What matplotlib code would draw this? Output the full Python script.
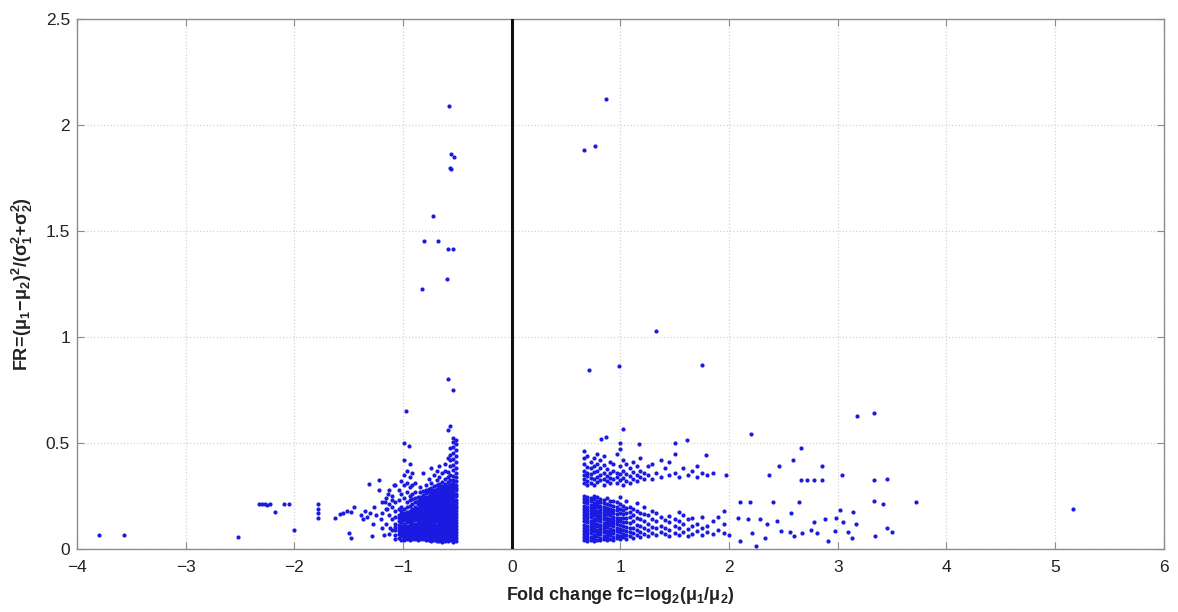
import matplotlib
matplotlib.use("Agg")
import matplotlib.pyplot as plt

plt.rcParams["font.family"] = ["Liberation Sans", "DejaVu Sans"]
plt.rcParams["mathtext.fontset"] = "custom"
plt.rcParams["mathtext.rm"] = "Liberation Sans"
plt.rcParams["mathtext.it"] = "Liberation Sans"
plt.rcParams["mathtext.bf"] = "Liberation Sans:bold"

# ---- data: fold change (fc) and Fisher ratio (FR) per gene ----
# isolated genes, down-regulated side
neg_fc = [-3.80, -3.57, -2.52, -2.00, -2.33, -2.30, -2.27, -2.25, -2.22, -2.18,
          -2.10, -2.05, -1.78, -1.78, -1.78, -1.78, -1.63, -1.58, -1.55, -1.52,
          -1.48, -1.45, -1.50, -1.48, -1.39, -1.37, -1.35, -1.33, -1.31, -1.30,
          -1.29, -1.28, -1.27, -1.25, -1.22, -1.22, -1.20, -1.18, -1.17, -1.15,
          -1.14, -1.12, -1.10, -1.08,
          -0.574, -0.558, -0.530, -0.567, -0.562, -0.727, -0.810, -0.675, -0.583,
          -0.543, -0.592, -0.822, -0.589, -0.545, -0.970, -0.570, -0.590, -0.990,
          -0.950]
neg_fr = [0.068, 0.065, 0.058, 0.088, 0.210, 0.212, 0.210, 0.208, 0.210, 0.175,
          0.210, 0.210, 0.212, 0.190, 0.168, 0.146, 0.146, 0.165, 0.170, 0.180,
          0.175, 0.200, 0.074, 0.052, 0.160, 0.140, 0.180, 0.150, 0.305, 0.170,
          0.060, 0.120, 0.200, 0.160, 0.325, 0.280, 0.140, 0.065, 0.220, 0.190,
          0.260, 0.100, 0.230, 0.300,
          2.090, 1.865, 1.849, 1.799, 1.791, 1.571, 1.453, 1.453, 1.417,
          1.417, 1.272, 1.225, 0.803, 0.751, 0.652, 0.580, 0.560, 0.500,
          0.485]

# dense block of down-regulated genes, listed column by column (fc: FR values)
neg_block = {
    -0.515: [0.038, 0.051, 0.066, 0.079, 0.094, 0.107, 0.121, 0.136, 0.149, 0.163,
             0.178, 0.191, 0.205, 0.219, 0.233, 0.248, 0.261, 0.276, 0.289, 0.304,
             0.321, 0.338, 0.357, 0.383, 0.412, 0.437, 0.468, 0.493, 0.512],
    -0.540: [0.034, 0.045, 0.058, 0.072, 0.087, 0.099, 0.114, 0.128, 0.142, 0.156,
             0.170, 0.184, 0.197, 0.212, 0.226, 0.240, 0.254, 0.268, 0.282, 0.297,
             0.310, 0.327, 0.346, 0.372, 0.398, 0.425, 0.452, 0.480, 0.505, 0.525],
    -0.565: [0.040, 0.053, 0.067, 0.081, 0.095, 0.109, 0.123, 0.137, 0.150, 0.165,
             0.179, 0.193, 0.207, 0.221, 0.235, 0.249, 0.262, 0.277, 0.291, 0.306,
             0.324, 0.350, 0.390, 0.420, 0.445, 0.475],
    -0.590: [0.036, 0.047, 0.060, 0.074, 0.088, 0.102, 0.116, 0.130, 0.144, 0.158,
             0.172, 0.186, 0.200, 0.214, 0.228, 0.242, 0.256, 0.270, 0.284, 0.298,
             0.315, 0.340, 0.365, 0.430],
    -0.615: [0.039, 0.052, 0.066, 0.080, 0.094, 0.108, 0.122, 0.136, 0.151, 0.164,
             0.178, 0.192, 0.206, 0.220, 0.234, 0.248, 0.263, 0.277, 0.291, 0.305,
             0.330, 0.370, 0.400],
    -0.640: [0.035, 0.046, 0.059, 0.073, 0.087, 0.101, 0.115, 0.129, 0.143, 0.157,
             0.171, 0.185, 0.199, 0.213, 0.227, 0.241, 0.255, 0.269, 0.283, 0.298,
             0.318, 0.360],
    -0.665: [0.038, 0.052, 0.066, 0.080, 0.094, 0.108, 0.122, 0.136, 0.150, 0.164,
             0.178, 0.192, 0.206, 0.220, 0.234, 0.248, 0.262, 0.276, 0.290, 0.305,
             0.340, 0.390],
    -0.690: [0.036, 0.047, 0.060, 0.073, 0.088, 0.102, 0.115, 0.130, 0.143, 0.157,
             0.172, 0.185, 0.200, 0.213, 0.227, 0.242, 0.255, 0.270, 0.284, 0.300,
             0.325, 0.370],
    -0.715: [0.040, 0.053, 0.067, 0.081, 0.095, 0.109, 0.123, 0.137, 0.151, 0.165,
             0.179, 0.193, 0.207, 0.221, 0.235, 0.249, 0.263, 0.278, 0.295, 0.350],
    -0.740: [0.037, 0.048, 0.061, 0.075, 0.089, 0.103, 0.117, 0.131, 0.145, 0.159,
             0.173, 0.187, 0.201, 0.215, 0.229, 0.243, 0.258, 0.272, 0.288, 0.310,
             0.380],
    -0.765: [0.042, 0.055, 0.069, 0.083, 0.097, 0.111, 0.125, 0.139, 0.153, 0.167,
             0.181, 0.195, 0.209, 0.223, 0.237, 0.252, 0.268, 0.285, 0.330],
    -0.790: [0.040, 0.050, 0.063, 0.077, 0.091, 0.105, 0.119, 0.133, 0.147, 0.161,
             0.175, 0.189, 0.203, 0.217, 0.231, 0.246, 0.262, 0.280, 0.300],
    -0.815: [0.045, 0.058, 0.072, 0.086, 0.100, 0.114, 0.128, 0.142, 0.156, 0.170,
             0.184, 0.198, 0.212, 0.226, 0.240, 0.256, 0.275, 0.360],
    -0.840: [0.048, 0.062, 0.076, 0.090, 0.104, 0.118, 0.132, 0.146, 0.160, 0.174,
             0.188, 0.202, 0.216, 0.230, 0.247, 0.270, 0.290],
    -0.865: [0.040, 0.052, 0.066, 0.080, 0.095, 0.109, 0.123, 0.137, 0.151, 0.166,
             0.180, 0.195, 0.210, 0.225, 0.245],
    -0.890: [0.045, 0.055, 0.070, 0.085, 0.100, 0.110, 0.120, 0.135, 0.150, 0.160,
             0.170, 0.185, 0.200, 0.220, 0.240, 0.270, 0.310],
    -0.915: [0.045, 0.060, 0.075, 0.085, 0.095, 0.110, 0.120, 0.130, 0.140, 0.150,
             0.165, 0.175, 0.190, 0.210, 0.235, 0.260, 0.300, 0.360],
    -0.940: [0.040, 0.050, 0.060, 0.070, 0.080, 0.090, 0.100, 0.115, 0.125, 0.140,
             0.150, 0.160, 0.170, 0.180, 0.205, 0.230, 0.250, 0.290, 0.340, 0.400],
    -0.965: [0.045, 0.055, 0.065, 0.080, 0.090, 0.100, 0.110, 0.125, 0.140, 0.155,
             0.165, 0.175, 0.200, 0.220, 0.270, 0.310, 0.370],
    -0.990: [0.040, 0.055, 0.070, 0.080, 0.095, 0.105, 0.120, 0.135, 0.150, 0.160,
             0.170, 0.190, 0.240, 0.300, 0.350, 0.420],
    -1.015: [0.040, 0.060, 0.070, 0.085, 0.100, 0.110, 0.125, 0.140, 0.150, 0.165,
             0.180, 0.200, 0.260, 0.320],
    -1.040: [0.050, 0.070, 0.085, 0.100, 0.115, 0.130, 0.145, 0.160, 0.190, 0.230,
             0.280],
    -1.070: [0.045, 0.065, 0.090, 0.105, 0.120, 0.150, 0.180, 0.220, 0.300],
    -1.100: [0.090, 0.140, 0.200, 0.250],
    -1.130: [0.070, 0.160, 0.210, 0.280],
    -1.160: [0.120, 0.190, 0.240],
    -1.190: [0.100, 0.170, 0.220],
}

# isolated genes, up-regulated side
pos_fc = [0.87, 0.66, 0.77, 1.33, 0.71, 0.99, 1.75, 3.18, 3.33, 2.20,
          2.66, 2.59, 2.46, 2.37, 2.85, 2.66, 2.72, 2.78, 2.85, 3.04,
          3.33, 3.45, 3.72, 5.16, 3.33, 3.42, 3.45, 3.50, 3.34, 3.02,
          3.14, 2.10, 2.19, 2.40, 2.64, 2.57, 2.25, 2.10, 1.97, 1.79,
          1.50, 1.61, 1.50, 1.175, 1.02, 0.82, 0.87,
          2.00, 2.08, 2.17, 2.21, 2.28, 2.33, 2.35, 2.44, 2.48, 2.56,
          2.60, 2.67, 2.75, 2.78, 2.81, 2.88, 2.91, 2.97, 3.05, 3.09,
          3.13, 3.17, 2.98]
pos_fr = [2.124, 1.880, 1.900, 1.030, 0.846, 0.862, 0.867, 0.626, 0.640, 0.540,
          0.476, 0.420, 0.390, 0.350, 0.390, 0.327, 0.327, 0.327, 0.327, 0.350,
          0.327, 0.330, 0.220, 0.190, 0.225, 0.214, 0.100, 0.080, 0.063, 0.185,
          0.173, 0.220, 0.220, 0.220, 0.220, 0.170, 0.013, 0.036, 0.350, 0.445,
          0.500, 0.513, 0.450, 0.497, 0.566, 0.520, 0.530,
          0.068, 0.146, 0.140, 0.075, 0.140, 0.052, 0.120, 0.130, 0.083, 0.079,
          0.063, 0.075, 0.090, 0.126, 0.075, 0.140, 0.036, 0.083, 0.126, 0.079,
          0.052, 0.120, 0.146]

# dense block of up-regulated genes, listed column by column (fc: FR values)
pos_block = {
    0.665: [0.040, 0.055, 0.070, 0.085, 0.100, 0.115, 0.130, 0.145, 0.160, 0.175,
            0.190, 0.205, 0.220, 0.235, 0.250, 0.310, 0.330, 0.350, 0.370, 0.400,
            0.430, 0.460],
    0.695: [0.036, 0.050, 0.066, 0.080, 0.096, 0.110, 0.126, 0.140, 0.156, 0.170,
            0.186, 0.200, 0.216, 0.230, 0.246, 0.300, 0.320, 0.345, 0.360, 0.385,
            0.440],
    0.725: [0.042, 0.058, 0.073, 0.088, 0.104, 0.118, 0.133, 0.149, 0.163, 0.178,
            0.194, 0.208, 0.224, 0.240, 0.310, 0.335, 0.355, 0.380, 0.410],
    0.755: [0.038, 0.052, 0.068, 0.083, 0.098, 0.113, 0.128, 0.143, 0.158, 0.173,
            0.188, 0.203, 0.218, 0.234, 0.250, 0.300, 0.330, 0.365, 0.390, 0.430],
    0.785: [0.044, 0.060, 0.075, 0.090, 0.106, 0.120, 0.136, 0.151, 0.166, 0.181,
            0.196, 0.212, 0.228, 0.245, 0.315, 0.340, 0.370, 0.400, 0.450],
    0.815: [0.040, 0.054, 0.070, 0.085, 0.100, 0.115, 0.130, 0.145, 0.160, 0.176,
            0.190, 0.205, 0.220, 0.238, 0.325, 0.350, 0.380, 0.420],
    0.845: [0.046, 0.062, 0.078, 0.093, 0.108, 0.124, 0.139, 0.154, 0.170, 0.185,
            0.200, 0.216, 0.232, 0.300, 0.330, 0.360, 0.395, 0.440],
    0.875: [0.040, 0.056, 0.072, 0.087, 0.102, 0.118, 0.133, 0.148, 0.164, 0.180,
            0.195, 0.212, 0.240, 0.320, 0.345, 0.375],
    0.905: [0.048, 0.065, 0.080, 0.096, 0.112, 0.127, 0.142, 0.158, 0.174, 0.190,
            0.208, 0.228, 0.310, 0.335, 0.360, 0.410],
    0.935: [0.042, 0.058, 0.075, 0.090, 0.106, 0.122, 0.138, 0.153, 0.170, 0.186,
            0.205, 0.225, 0.330, 0.370, 0.400],
    0.965: [0.050, 0.067, 0.083, 0.100, 0.116, 0.132, 0.148, 0.165, 0.182, 0.200,
            0.220, 0.310, 0.340, 0.360, 0.450],
    0.995: [0.045, 0.062, 0.078, 0.095, 0.112, 0.130, 0.148, 0.168, 0.190, 0.210,
            0.245, 0.325, 0.355, 0.390, 0.470, 0.500],
    1.025: [0.055, 0.072, 0.090, 0.108, 0.126, 0.145, 0.165, 0.185, 0.205, 0.300,
            0.335, 0.370, 0.420],
    1.055: [0.048, 0.066, 0.085, 0.105, 0.125, 0.148, 0.170, 0.195, 0.225, 0.320,
            0.355, 0.400],
    1.085: [0.060, 0.080, 0.100, 0.122, 0.150, 0.175, 0.200, 0.310, 0.345, 0.380],
    1.115: [0.052, 0.075, 0.098, 0.130, 0.160, 0.190, 0.330, 0.365, 0.410],
    1.150: [0.065, 0.090, 0.115, 0.145, 0.180, 0.215, 0.320, 0.350, 0.390],
    1.180: [0.055, 0.080, 0.110, 0.140, 0.170, 0.340, 0.370, 0.430],
    1.215: [0.070, 0.100, 0.130, 0.165, 0.200, 0.330, 0.360],
    1.250: [0.060, 0.090, 0.120, 0.160, 0.350, 0.390],
    1.290: [0.075, 0.105, 0.140, 0.180, 0.330, 0.400],
    1.330: [0.065, 0.100, 0.130, 0.170, 0.360],
    1.370: [0.080, 0.110, 0.150, 0.340, 0.420],
    1.410: [0.070, 0.100, 0.135, 0.380],
    1.450: [0.060, 0.090, 0.125, 0.155, 0.350, 0.410],
    1.500: [0.075, 0.110, 0.140, 0.360],
    1.540: [0.065, 0.100, 0.130, 0.175, 0.340],
    1.580: [0.080, 0.120, 0.160, 0.380],
    1.620: [0.060, 0.095, 0.140, 0.350],
    1.660: [0.070, 0.110, 0.145, 0.370],
    1.700: [0.085, 0.120, 0.340, 0.390],
    1.750: [0.065, 0.100, 0.150, 0.360],
    1.800: [0.080, 0.110, 0.350],
    1.850: [0.070, 0.130, 0.360],
    1.900: [0.090, 0.150],
    1.950: [0.075, 0.120, 0.180],
}

x_ticks = [-4, -3, -2, -1, 0, 1, 2, 3, 4, 5, 6]
y_ticks = [0, 0.5, 1, 1.5, 2, 2.5]
y_tick_labels = ["0", "0.5", "1", "1.5", "2", "2.5"]

# ---- gather points ----
fc_all, fr_all = [], []
fc_all += neg_fc
fr_all += neg_fr
fc_all += pos_fc
fr_all += pos_fr
for block in (neg_block, pos_block):
    for fc, frs in block.items():
        fc_all += [fc] * len(frs)
        fr_all += frs

fig = plt.figure(figsize=(11.78, 6.12), dpi=100)
ax = fig.add_axes([0.0654, 0.103, 0.9226, 0.866])

ax.plot(fc_all, fr_all, linestyle="none", marker="o", markersize=3.0,
        markeredgewidth=0, color="#1a1ae0", zorder=3)

# fc = 0 separator
ax.axvline(0, color="#111111", linewidth=2.2, zorder=4)

ax.set_xlim(-4, 6)
ax.set_ylim(0, 2.5)
ax.set_xticks(x_ticks)
ax.set_xticklabels(["\u2212" + str(-t) if t < 0 else str(t) for t in x_ticks])
ax.set_yticks(y_ticks)
ax.set_yticklabels(y_tick_labels)

ax.grid(True, color="#d4d4d4", linestyle=":", linewidth=0.9, zorder=0)
ax.set_axisbelow(True)
for s in ax.spines.values():
    s.set_color("#8c8c8c")
    s.set_linewidth(1.0)
ax.tick_params(direction="in", length=5, width=0.8, color="#8c8c8c",
               top=True, right=True, labelsize=12.5, labelcolor="#222222")
ax.tick_params(axis="x", pad=8)
ax.tick_params(axis="y", pad=5)

ax.set_xlabel(r"$\mathbf{Fold\ change\ fc\!=\!log_2(\mu_1/\mu_2)}$",
              fontsize=13, color="#222222", labelpad=7)
ax.set_ylabel(r"$\mathbf{FR\!=\!(\mu_1\!-\!\mu_2)^2/(\sigma_1^2\!+\!\sigma_2^2)}$",
              fontsize=13, color="#222222", labelpad=8)

fig.savefig("out.png", dpi=100, facecolor="white")
